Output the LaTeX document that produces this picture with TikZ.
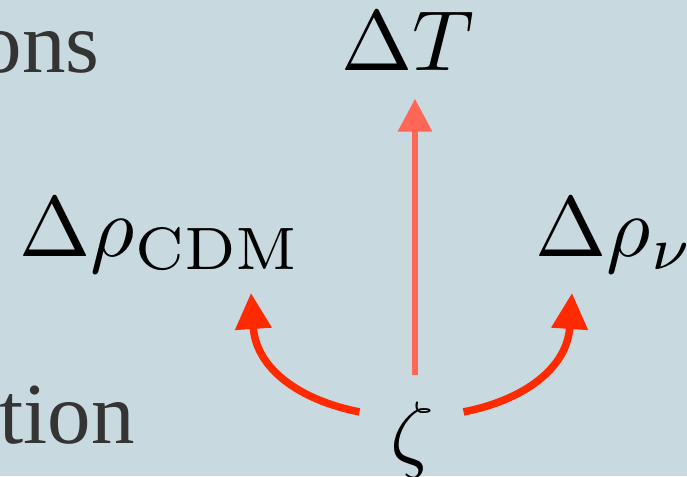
\RequirePackage{fix-cm}
\documentclass[tikz,border=0pt]{standalone}
\usepackage{fontspec}
\newfontfamily\slidefont{Liberation Serif}
\usetikzlibrary{arrows.meta,calc}
\definecolor{bgcol}{RGB}{201,217,224}
\definecolor{txtcol}{RGB}{52,52,52}
\definecolor{curvered}{RGB}{255,42,0}
\definecolor{salmon}{RGB}{255,102,86}
\tikzset{
  mathlbl/.style={inner sep=0pt,font=\normalsize,text=black,scale=8.55,transform shape},
  slidetxt/.style={inner sep=0pt,font=\slidefont\fontsize{87}{100}\selectfont,text=txtcol},
  curvearrow/.style={draw=curvered,line width=7.5pt,-{Triangle[width=35pt,length=36pt]}},
  straightarrow/.style={draw=salmon,line width=6.5pt,-{Triangle[width=33pt,length=33pt]}},
}
\begin{document}
\begin{tikzpicture}[x=1pt,y=1pt]
\fill[bgcol] (0,0) rectangle (687,476);
\useasboundingbox (0,0) rectangle (687,476);
\node[slidetxt,anchor=base east] (ons) at (100,403) {ons};
\node[slidetxt,anchor=base west] (tion) at (-1,33) {tion};
\node[mathlbl,anchor=base west] (dT) at (340,405) {$\Delta T$};
\node[mathlbl,anchor=base west] (dcdm) at (18,219) {$\Delta\rho_{\mathrm{CDM}}$};
\node[mathlbl,anchor=base west] (dnu) at (534,219) {$\Delta\rho_{\nu}$};
\node[mathlbl,anchor=base] (zeta) at (412,15) {$\zeta$};
\coordinate (zT) at ($(zeta.north)+(3,25)$);
\coordinate (zL) at ($(zeta.north west)+(-29,-12)$);
\coordinate (zR) at ($(zeta.north east)+(28,-12)$);
\coordinate (tT) at ($(zT |- dT.south)+(0,-26)$);
\coordinate (tL) at (251,183);
\coordinate (tR) at (572,183);
\draw[straightarrow] (zT) -- (tT);
\draw[curvearrow] (zR) .. controls ($(zR)+(61,12)$) and ($(tR)+(-5,-75)$) .. (tR);
\draw[curvearrow] (zL) .. controls ($(zL)+(-61,12)$) and ($(tL)+(5,-75)$) .. (tL);
\end{tikzpicture}
\end{document}
